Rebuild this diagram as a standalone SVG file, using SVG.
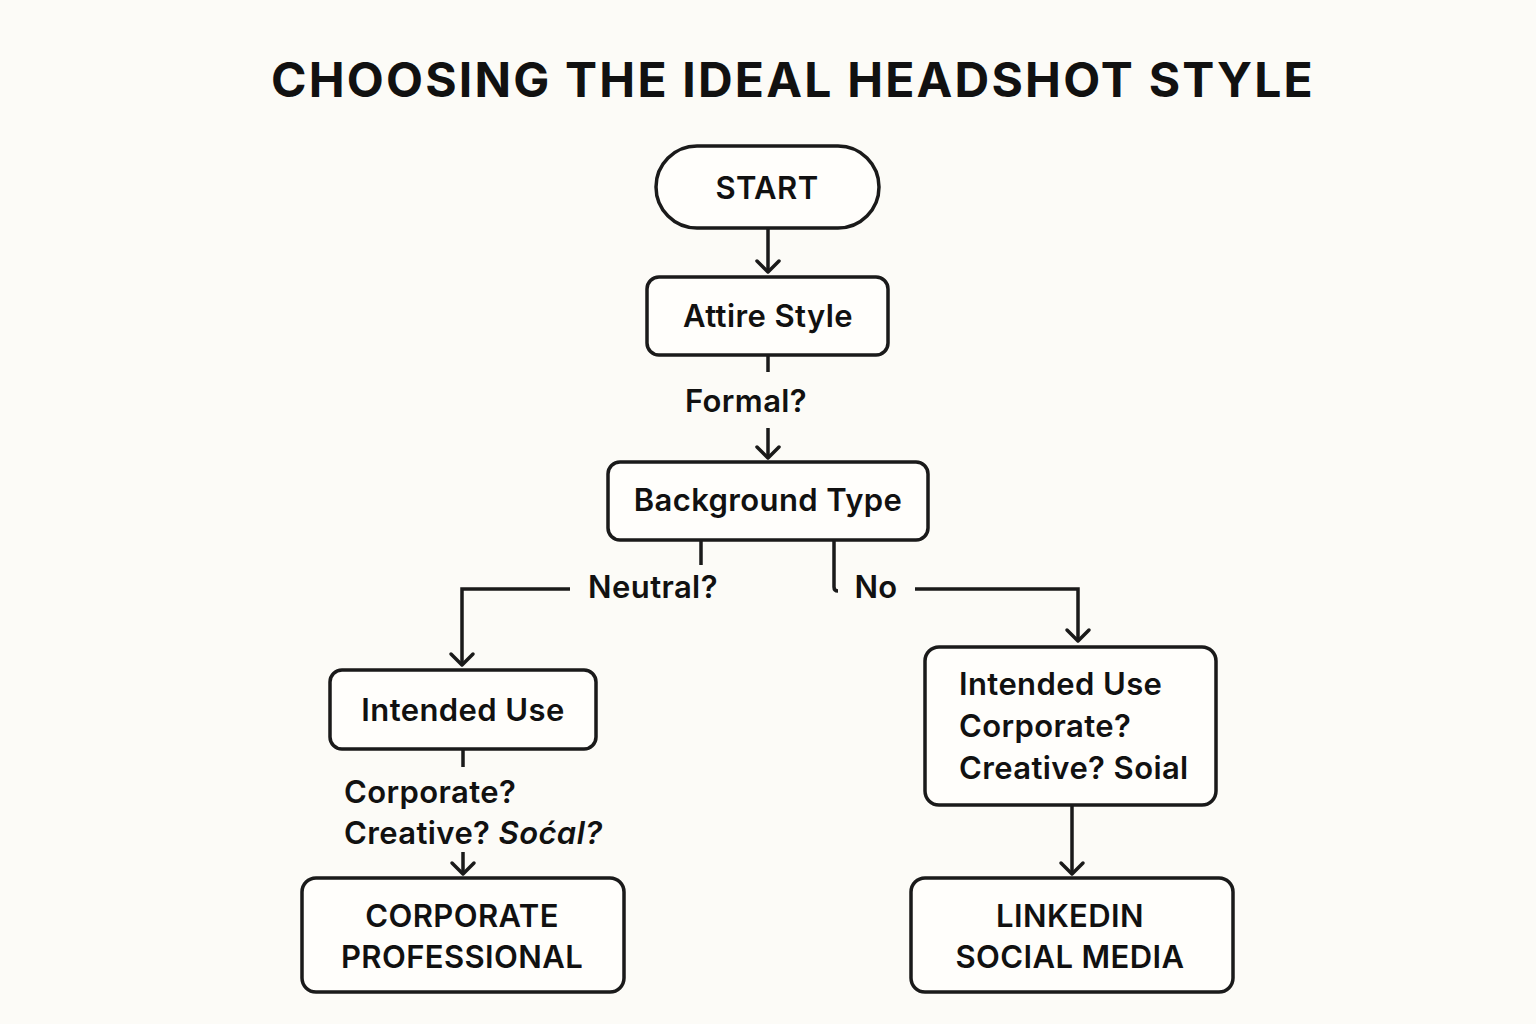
<svg xmlns="http://www.w3.org/2000/svg" width="1536" height="1024" viewBox="0 0 1536 1024">
<style>
.b{fill:#fffefb;stroke:#1a1a1a;stroke-width:3.5}
.t{font-family:Inter,"Liberation Sans",sans-serif;font-weight:600;fill:#111;font-size:31px;letter-spacing:0.4px}
.c{fill:none;stroke:#1a1a1a;stroke-width:3.5}
.a{fill:none;stroke:#1a1a1a;stroke-width:3.5;stroke-linecap:round;stroke-linejoin:round}
</style>
<rect width="1536" height="1024" fill="#fcfbf7"/>
<text x="793" y="97" text-anchor="middle" style="font-family:Inter,'Liberation Sans',sans-serif;font-weight:700;font-size:48px;letter-spacing:2.2px;fill:#111">CHOOSING THE IDEAL HEADSHOT STYLE</text>
<g id="connectors">
<path class="c" d="M768 228V272"/><path class="a" d="M757 261L768 272L779 261"/>
<path class="c" d="M768 356V372"/>
<path class="c" d="M768 428V458"/><path class="a" d="M757 447L768 458L779 447"/>
<path class="c" d="M701 541V565"/>
<path class="c" d="M570 589H462V665"/><path class="a" d="M451 654L462 665L473 654"/>
<path class="c" d="M834 541V587q0 4 4 4"/>
<path class="c" d="M915 589H1078V641"/><path class="a" d="M1067 630L1078 641L1089 630"/>
<path class="c" d="M463 750V767"/>
<path class="c" d="M463 852V874"/><path class="a" d="M452 863L463 874L474 863"/>
<path class="c" d="M1072 806V874"/><path class="a" d="M1061 863L1072 874L1083 863"/>
<text class="t" x="746" y="412" text-anchor="middle">Formal?</text>
<text class="t" x="653" y="598" text-anchor="middle">Neutral?</text>
<text class="t" x="876" y="598" text-anchor="middle">No</text>
<text class="t" x="344" y="803">Corporate?</text>
<text class="t" x="344" y="844">Creative? <tspan font-style="italic">Soćal?</tspan></text>
</g>
<g id="start"><rect class="b" x="656" y="146" width="223" height="82" rx="41"/><text class="t" x="767" y="199" text-anchor="middle">START</text></g>
<g id="attire"><rect class="b" x="647" y="277" width="241" height="78" rx="12"/><text class="t" x="768" y="327" text-anchor="middle">Attire Style</text></g>
<g id="background"><rect class="b" x="608" y="462" width="320" height="78" rx="12"/><text class="t" x="768" y="511" text-anchor="middle">Background Type</text></g>
<g id="use1"><rect class="b" x="330" y="670" width="266" height="79" rx="12"/><text class="t" x="463" y="721" text-anchor="middle">Intended Use</text></g>
<g id="use2"><rect class="b" x="925" y="647" width="291" height="158" rx="14"/><text class="t" x="959" y="695">Intended Use</text><text class="t" x="959" y="737">Corporate?</text><text class="t" x="959" y="779">Creative? Soial</text></g>
<g id="corp"><rect class="b" x="302" y="878" width="322" height="114" rx="14"/><text class="t" x="462" y="927" text-anchor="middle">CORPORATE</text><text class="t" x="462" y="968" text-anchor="middle">PROFESSIONAL</text></g>
<g id="linkedin"><rect class="b" x="911" y="878" width="322" height="114" rx="14"/><text class="t" x="1070" y="927" text-anchor="middle">LINKEDIN</text><text class="t" x="1070" y="968" text-anchor="middle">SOCIAL MEDIA</text></g>
</svg>
